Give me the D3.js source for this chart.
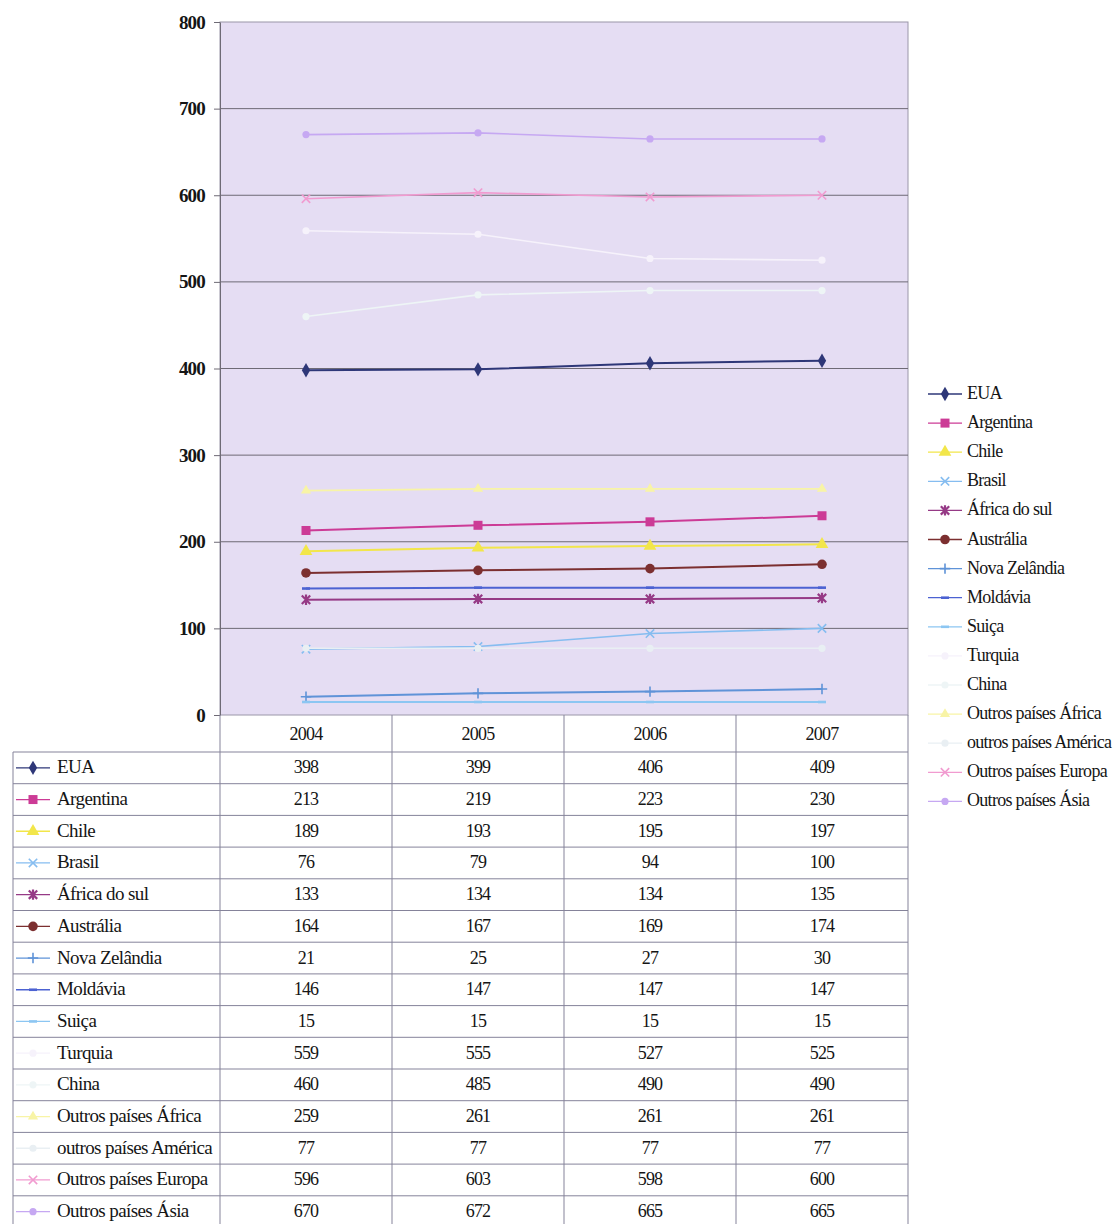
<!DOCTYPE html>
<html>
<head>
<meta charset="utf-8">
<script src="https://cdn.jsdelivr.net/npm/d3@7"></script>
<style>
  html, body { margin: 0; padding: 0; background: #ffffff; }
  svg text { font-family: "Liberation Serif", "DejaVu Serif", serif; fill: #151515; }
</style>
</head>
<body>
<svg id="chart" width="1120" height="1224"></svg>
<script>
// Years along the category axis
const years = ["2004", "2005", "2006", "2007"];
const yTicks = [0, 100, 200, 300, 400, 500, 600, 700, 800];

// Series names, in table / legend order
const seriesNames = [
  "EUA", "Argentina", "Chile", "Brasil", "África do sul", "Austrália",
  "Nova Zelândia", "Moldávia", "Suiça", "Turquia", "China",
  "Outros países África", "outros países América", "Outros países Europa", "Outros países Ásia"
];

// Values per series, one per year
const eua            = [398, 399, 406, 409];
const argentina      = [213, 219, 223, 230];
const chile          = [189, 193, 195, 197];
const brasil         = [76, 79, 94, 100];
const africaDoSul    = [133, 134, 134, 135];
const australia      = [164, 167, 169, 174];
const novaZelandia   = [21, 25, 27, 30];
const moldavia       = [146, 147, 147, 147];
const suica          = [15, 15, 15, 15];
const turquia        = [559, 555, 527, 525];
const china          = [460, 485, 490, 490];
const outrosAfrica   = [259, 261, 261, 261];
const outrosAmerica  = [77, 77, 77, 77];
const outrosEuropa   = [596, 603, 598, 600];
const outrosAsia     = [670, 672, 665, 665];

const seriesValues = [eua, argentina, chile, brasil, africaDoSul, australia,
  novaZelandia, moldavia, suica, turquia, china, outrosAfrica, outrosAmerica,
  outrosEuropa, outrosAsia];

// Line colour, marker shape and line width for each series
const styles = [
  { color: "#2e3778", marker: "diamond", w: 2 },
  { color: "#cc3b96", marker: "square", w: 2 },
  { color: "#f2e64a", marker: "triangle", w: 2 },
  { color: "#86bdf0", marker: "x", w: 1.6 },
  { color: "#963a86", marker: "star", w: 2 },
  { color: "#7c2f30", marker: "circle", w: 2 },
  { color: "#5f93d8", marker: "plus", w: 2 },
  { color: "#4c62d2", marker: "dash", w: 2 },
  { color: "#8cc6f2", marker: "dash", w: 2 },
  { color: "#f6f2fb", marker: "dot", w: 1.6 },
  { color: "#eef5f6", marker: "dot", w: 1.6 },
  { color: "#f8f4a6", marker: "triangleSmall", w: 1.6 },
  { color: "#e9eff3", marker: "dot", w: 1.6 },
  { color: "#f19bd0", marker: "x", w: 1.6 },
  { color: "#c6a8f2", marker: "dot", w: 1.6 }
];

const svg = d3.select("#chart");

// Plot geometry
const plotLeft = 220, plotRight = 908, plotTop = 22, plotBottom = 715;
const tableLeft = 13, rowTop = 752, rowH = 31.7;

const x = d3.scaleBand().domain(years).range([plotLeft, plotRight]);
const y = d3.scaleLinear().domain([0, 800]).range([plotBottom, plotTop]);
const cx = d => x(d) + x.bandwidth() / 2;

// Plot background
svg.append("rect")
  .attr("x", plotLeft).attr("y", plotTop)
  .attr("width", plotRight - plotLeft).attr("height", plotBottom - plotTop)
  .attr("fill", "#e5ddf3").attr("stroke", "#9a96a8").attr("stroke-width", 1);

// Horizontal gridlines
svg.append("g").selectAll("line")
  .data(yTicks.filter(t => t > 0 && t < 800))
  .join("line")
  .attr("x1", plotLeft).attr("x2", plotRight)
  .attr("y1", d => y(d)).attr("y2", d => y(d))
  .attr("stroke", "#6e6a75").attr("stroke-width", 1);

// Value axis
const yAxis = svg.append("g")
  .attr("transform", `translate(${plotLeft},0)`)
  .call(d3.axisLeft(y).tickValues(yTicks).tickSize(6).tickSizeOuter(0).tickPadding(9));
yAxis.select(".domain").attr("stroke", "#6e6a75");
yAxis.selectAll(".tick line").attr("stroke", "#6e6a75");
yAxis.selectAll(".tick text")
  .style("font-family", "'Liberation Serif', serif")
  .style("font-size", "19px").style("font-weight", "bold")
  .style("letter-spacing", "-0.8px").attr("fill", "#1a1a1a");

// Marker symbol generator
function drawMarker(g, type, color, px, py) {
  const s = 4.2;
  if (type === "diamond") {
    g.append("path").attr("d", d3.symbol(d3.symbolDiamond, 60)()).attr("transform", `translate(${px},${py})`).attr("fill", color);
  } else if (type === "square") {
    g.append("rect").attr("x", px - 4.5).attr("y", py - 4.5).attr("width", 9).attr("height", 9).attr("fill", color);
  } else if (type === "triangle") {
    g.append("path").attr("d", d3.symbol(d3.symbolTriangle, 70)()).attr("transform", `translate(${px},${py})`).attr("fill", color);
  } else if (type === "triangleSmall") {
    g.append("path").attr("d", d3.symbol(d3.symbolTriangle, 45)()).attr("transform", `translate(${px},${py})`).attr("fill", color);
  } else if (type === "circle") {
    g.append("circle").attr("cx", px).attr("cy", py).attr("r", 4.8).attr("fill", color);
  } else if (type === "dot") {
    g.append("circle").attr("cx", px).attr("cy", py).attr("r", 3.6).attr("fill", color);
  } else if (type === "x") {
    g.append("path").attr("d", `M${px - s},${py - s}L${px + s},${py + s}M${px - s},${py + s}L${px + s},${py - s}`)
      .attr("stroke", color).attr("stroke-width", 1.6).attr("fill", "none");
  } else if (type === "star") {
    g.append("path").attr("d", `M${px - s},${py - s}L${px + s},${py + s}M${px - s},${py + s}L${px + s},${py - s}M${px},${py - s - 1}L${px},${py + s + 1}`)
      .attr("stroke", color).attr("stroke-width", 2.2).attr("fill", "none");
  } else if (type === "plus") {
    g.append("path").attr("d", `M${px - s - 1},${py}L${px + s + 1},${py}M${px},${py - s - 1}L${px},${py + s + 1}`)
      .attr("stroke", color).attr("stroke-width", 1.6).attr("fill", "none");
  } else if (type === "dash") {
    g.append("path").attr("d", `M${px - 4},${py}L${px + 4},${py}`)
      .attr("stroke", color).attr("stroke-width", 2.6).attr("fill", "none");
  }
}

// Series lines and markers
const line = d3.line().x((d, i) => cx(years[i])).y(d => y(d));
const plotG = svg.append("g");
seriesValues.forEach((vals, k) => {
  const st = styles[k];
  const g = plotG.append("g");
  g.append("path").datum(vals).attr("d", line)
    .attr("fill", "none").attr("stroke", st.color).attr("stroke-width", st.w);
  vals.forEach((v, i) => drawMarker(g, st.marker, st.color, cx(years[i]), y(v)));
});

// Data table beneath the plot
const tableG = svg.append("g");
const nRows = seriesNames.length;
const tableBottom = rowTop + rowH * nRows;
const gridStroke = "#85839a";

// Header row verticals and year labels
const colEdges = years.map(yr => x(yr)).concat([plotRight]);
colEdges.forEach(cxEdge => {
  tableG.append("line").attr("x1", cxEdge).attr("x2", cxEdge)
    .attr("y1", plotBottom).attr("y2", tableBottom)
    .attr("stroke", gridStroke).attr("stroke-width", 1);
});
tableG.append("line").attr("x1", tableLeft).attr("x2", tableLeft)
  .attr("y1", rowTop).attr("y2", tableBottom).attr("stroke", gridStroke);
tableG.selectAll("text.year").data(years).join("text")
  .attr("class", "year")
  .attr("x", d => cx(d)).attr("y", (plotBottom + rowTop) / 2 + 6)
  .attr("text-anchor", "middle")
  .style("font-size", "18px").style("letter-spacing", "-0.8px")
  .text(d => d);

// Row separators
d3.range(nRows + 1).forEach(r => {
  tableG.append("line")
    .attr("x1", tableLeft).attr("x2", plotRight)
    .attr("y1", rowTop + r * rowH).attr("y2", rowTop + r * rowH)
    .attr("stroke", gridStroke).attr("stroke-width", 1);
});

// Row keys, names and values
seriesNames.forEach((name, k) => {
  const st = styles[k];
  const ry = rowTop + k * rowH + rowH / 2;
  const g = tableG.append("g");
  g.append("line").attr("x1", 16).attr("x2", 50).attr("y1", ry).attr("y2", ry)
    .attr("stroke", st.color).attr("stroke-width", 1.3);
  drawMarker(g, st.marker, st.color, 33, ry);
  g.append("text").attr("x", 57).attr("y", ry + 5.5)
    .style("font-size", "19px").style("letter-spacing", "-0.6px")
    .text(name);
  seriesValues[k].forEach((v, i) => {
    g.append("text").attr("x", cx(years[i])).attr("y", ry + 5.5)
      .attr("text-anchor", "middle")
      .style("font-size", "18px").style("letter-spacing", "-0.8px")
      .text(v);
  });
});

// Legend to the right of the plot
const legG = svg.append("g");
const legTop = 394, legStep = 29.1;
seriesNames.forEach((name, k) => {
  const st = styles[k];
  const ly = legTop + k * legStep;
  legG.append("line").attr("x1", 928).attr("x2", 962).attr("y1", ly).attr("y2", ly)
    .attr("stroke", st.color).attr("stroke-width", 1.3);
  drawMarker(legG, st.marker, st.color, 945, ly);
  legG.append("text").attr("x", 967).attr("y", ly + 5)
    .style("font-size", "18px").style("letter-spacing", "-0.7px")
    .text(name);
});
</script>
</body>
</html>
